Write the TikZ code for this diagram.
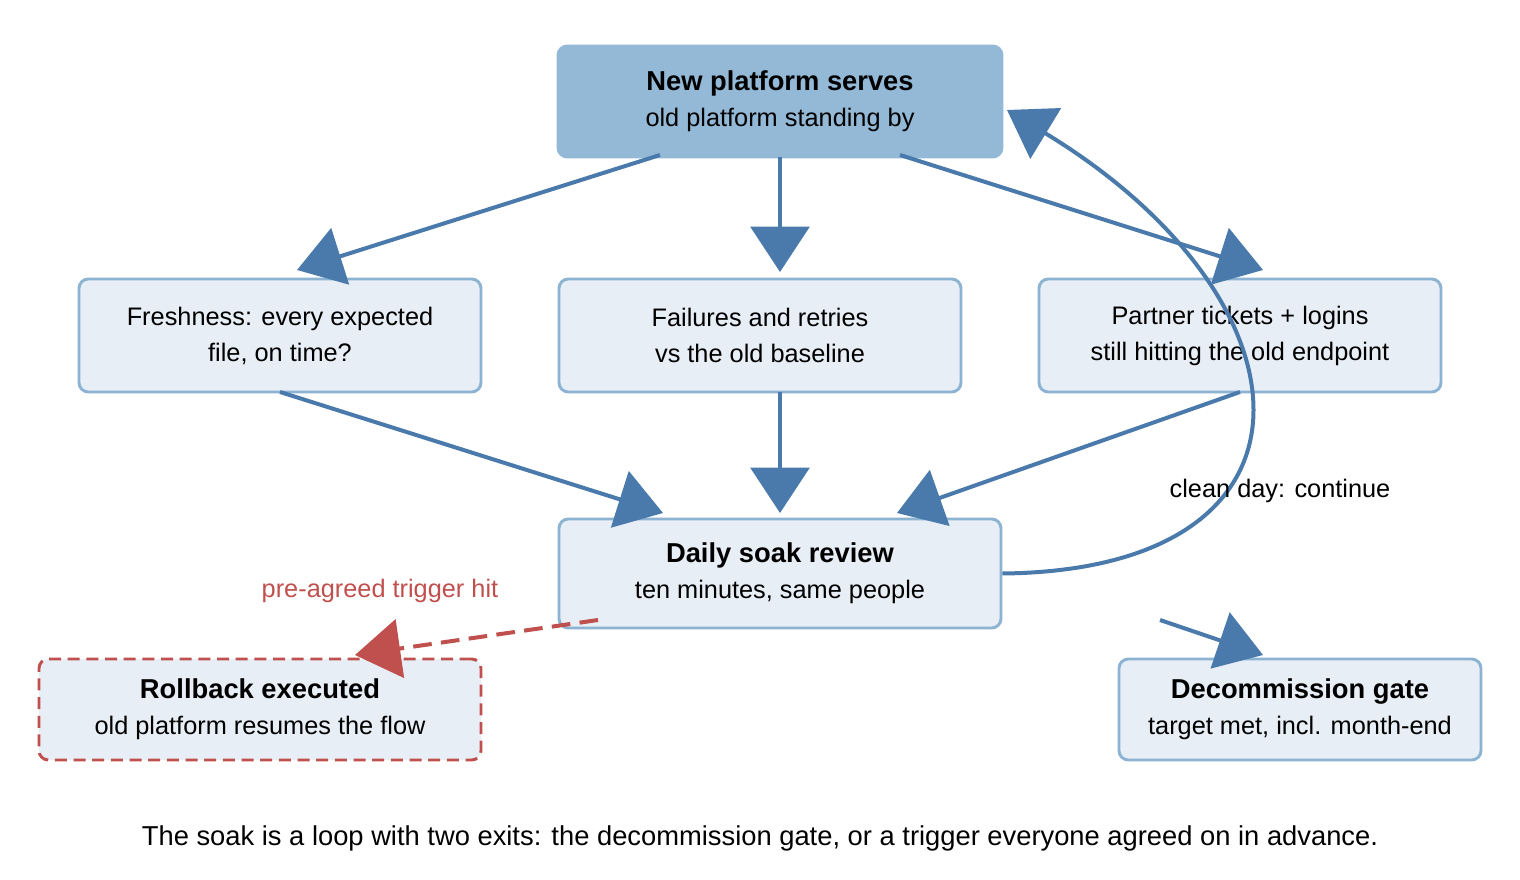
\documentclass[tikz,border=0pt]{standalone}
\usepackage{fontspec}
\setmainfont{Liberation Sans}
\usetikzlibrary{arrows.meta,positioning}
\definecolor{flowblue}{HTML}{4A7AAB}
\definecolor{boxfill}{HTML}{E8EEF5}
\definecolor{boxline}{HTML}{8DB3D3}
\definecolor{topfill}{HTML}{93B9D6}
\definecolor{alarmred}{HTML}{C0504D}
\tikzset{
  box/.style={draw=boxline, fill=boxfill, line width=2.2pt, rounded corners=7pt, align=center, font=\fontsize{19}{27}\selectfont},
  flow/.style={draw=flowblue, line width=3pt, -{Triangle[length=34pt,width=44pt]}},
}
\newcommand{\headline}[1]{{\fontsize{20.5}{30}\selectfont\bfseries #1}}
\begin{document}
\begin{tikzpicture}[x=0.75pt,y=-0.75pt]
\useasboundingbox (0,0) rectangle (1520,880);
%boxes
\node[box, fill=topfill, draw=topfill, minimum width=444*0.75pt, minimum height=111*0.75pt] (top) at (780,101.5) {\headline{New platform serves}\\old platform standing by};
\node[box, minimum width=402*0.75pt, minimum height=113*0.75pt] (fresh) at (280,335.5) {Freshness: every expected\\file, on time?};
\node[box, minimum width=402*0.75pt, minimum height=113*0.75pt] (fail) at (760,335.5) {Failures and retries\\vs the old baseline};
\node[box, minimum width=402*0.75pt, minimum height=113*0.75pt] (partner) at (1240,335.5) {Partner tickets + logins\\still hitting the old endpoint};
\node[box, minimum width=442*0.75pt, minimum height=109*0.75pt] (daily) at (780,573.5) {\headline{Daily soak review}\\ten minutes, same people};
\node[box, draw=alarmred, dashed, dash pattern=on 9pt off 5pt, minimum width=442*0.75pt, minimum height=101*0.75pt] (rollback) at (260,709.5) {\headline{Rollback executed}\\old platform resumes the flow};
\node[box, minimum width=362*0.75pt, minimum height=101*0.75pt] (gate) at (1300,709.5) {\headline{Decommission gate}\\target met, incl. month-end};
%arrow ends
\coordinate (t1) at (660,155); \coordinate (t2) at (780,157); \coordinate (t3) at (900,155);
\coordinate (h1) at (297,270); \coordinate (h2) at (780,272); \coordinate (h3) at (1263,270);
\coordinate (f1) at (280,392); \coordinate (f2) at (780,392); \coordinate (f3) at (1240,392);
\coordinate (d1) at (663,513); \coordinate (d2) at (780,513); \coordinate (d3) at (897,513);
\coordinate (loopin) at (1007,110);
\coordinate (rb) at (598,620); \coordinate (rbh) at (355,655);
\coordinate (gs) at (1160,620); \coordinate (gh) at (1263,655);
%connectors
\draw[flow] (t1) -- (h1);
\draw[flow] (t2) -- (h2);
\draw[flow] (t3) -- (h3);
\draw[flow] (f1) -- (d1);
\draw[flow] (f2) -- (d2);
\draw[flow] (f3) -- (d3);
\draw[flow] (daily.east) .. controls (1340,570) and (1320,300) .. (loopin);
\draw[flow, draw=alarmred, dash pattern=on 14pt off 7pt] (rb) -- (rbh);
\draw[flow] (gs) -- (gh);
%labels
\node[font=\fontsize{19}{22}\selectfont] (cont) at (1280,491) {clean day: continue};
\node[font=\fontsize{19}{22}\selectfont, text=alarmred] (trig) at (380,591) {pre-agreed trigger hit};
\node[font=\fontsize{20.5}{24}\selectfont] (cap) at (760,838) {The soak is a loop with two exits: the decommission gate, or a trigger everyone agreed on in advance.};
\end{tikzpicture}
\end{document}
